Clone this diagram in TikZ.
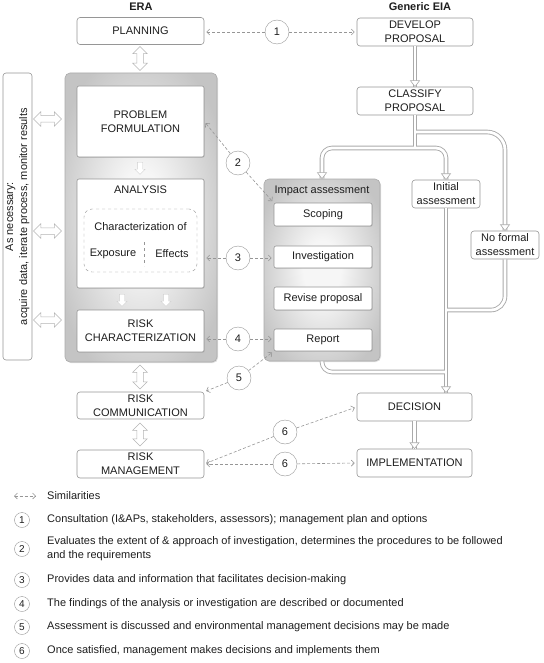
\documentclass[tikz,border=0pt]{standalone}
\usepackage{fontspec}
\setmainfont{Liberation Sans}
\usepackage{tikz}
\usetikzlibrary{positioning, calc, arrows.meta, shapes.arrows, shadows}
\definecolor{eraGray}{RGB}{150, 150, 150}
\definecolor{eraDark}{RGB}{30, 30, 30}
\definecolor{eraPipe}{RGB}{170, 170, 170}
\definecolor{eraShade}{RGB}{196, 196, 196}
\definecolor{eraLight}{RGB}{246, 246, 246}
\pgfdeclareradialshading{panelShade}{\pgfpoint{0bp}{0bp}}{color(0bp)=(eraLight); color(8bp)=(eraLight); color(30bp)=(eraShade); color(100bp)=(eraShade)}

\newcommand{\pipehead}[1]{\draw[pipe tip] (#1) -- ++(-4.5,-6) -- ++(9,0) -- cycle;}

\begin{document}
\begin{tikzpicture}[x=1pt, y=-1pt, font=\fontsize{11}{14}\selectfont, text=eraDark,
  box/.style={draw=eraGray, fill=white, rounded corners=3pt, line width=0.6pt, align=center, inner sep=1pt},
  inner box/.style={box, rounded corners=2pt, drop shadow={opacity=0.3, shadow xshift=0.7pt, shadow yshift=-0.7pt}},
  panel/.style={draw=eraGray!80, rounded corners=5pt, line width=0.6pt, shading=panelShade, drop shadow={opacity=0.25, shadow xshift=1pt, shadow yshift=-1pt}},
  num/.style={circle, draw=eraGray, fill=white, minimum size=24pt, inner sep=0pt},
  key num/.style={circle, draw=eraGray, fill=white, minimum size=15pt, inner sep=0pt, font=\fontsize{10}{12}\selectfont},
  sim/.style={draw=eraGray, dash pattern=on 3pt off 2pt, line width=0.6pt, -{Straight Barb[length=3pt, width=6pt]}, shorten >=2pt},
  fat arrow/.style={double arrow, draw=eraGray!70, fill=white, line width=0.5pt, inner sep=3pt, double arrow head extend=4pt, minimum height=#1},
  down arrow/.style={single arrow, fill=white, draw=eraGray!45, line width=0.3pt, inner sep=2.5pt, single arrow head extend=2.5pt, minimum height=12pt, rotate=-90},
  pipe tip/.style={draw=eraPipe, fill=white, line width=0.6pt},
]
  \useasboundingbox (0,0) rectangle (543,663);

  % Headings
  \node[font=\fontsize{11}{14}\selectfont\bfseries] (eraHead) at (141,7) {ERA};
  \node[font=\fontsize{11}{14}\selectfont\bfseries] (eiaHead) at (420,7) {Generic EIA};

  % ERA column
  \node[box, minimum width=127pt, minimum height=27pt] (plan) at (140.5,31) {PLANNING};
  \node[panel, minimum width=152pt, minimum height=289pt] (era) at (141,217.5) {};
  \node[inner box, minimum width=127pt, minimum height=71pt] (pf) at (140.5,121.5) {PROBLEM\\FORMULATION};
  \node[inner box, minimum width=127pt, minimum height=109pt] (ana) at (140.5,233.5) {};
  \node (anaLabel) at (140.5,190) {ANALYSIS};
  \node[draw=eraGray, dashed, rounded corners=8pt, minimum width=113pt, minimum height=63pt] (charBox) at (140.5,240.5) {};
  \node (charTxt) at (140.5,227) {Characterization of};
  \node (expo) at (113,254) {Exposure};
  \node (effe) at (172,254) {Effects};
  \draw[eraGray, dashed] (144,242) -- (144,266);
  \node[inner box, minimum width=127pt, minimum height=42pt] (rc) at (140.5,331) {RISK\\CHARACTERIZATION};
  \node[box, minimum width=127pt, minimum height=27pt] (rcom) at (140.5,405.5) {RISK\\COMMUNICATION};
  \node[box, minimum width=127pt, minimum height=28pt] (rmg) at (140.5,464) {RISK\\MANAGEMENT};

  % Hollow arrows
  \node[down arrow] (dA1) at (140,167) {};
  \node[down arrow] (dA2) at (122,299) {};
  \node[down arrow] (dA3) at (166,299) {};
  \node[fat arrow=24pt, rotate=90] (fa1) at (140,58.5) {};
  \node[fat arrow=24pt, rotate=90] (fa2) at (140,377) {};
  \node[fat arrow=23pt, rotate=90] (fa3) at (140,434.5) {};

  % Iteration side bar
  \node[box, minimum width=29pt, minimum height=287pt] (side) at (17.5,216.5) {};
  \node[rotate=90, align=center] (sideTxt) at (side) {As necessary:\\acquire data, iterate process, monitor results};
  \foreach \y in {119, 231, 320} {
      \node[fat arrow=28pt] (sa\y) at (47.5,\y) {};
  }

  % Generic EIA column
  \node[box, minimum width=116pt, minimum height=28pt] (dev) at (415,32) {DEVELOP\\PROPOSAL};
  \node[box, minimum width=116pt, minimum height=28pt] (cls) at (415,101) {CLASSIFY\\PROPOSAL};
  \node[panel, minimum width=116pt, minimum height=182pt] (ia) at (322,270) {};
  \node (iaLabel) at (322,191) {Impact assessment};
  \node[inner box, minimum width=98pt, minimum height=23pt] (scope) at (323,214.5) {Scoping};
  \node[inner box, minimum width=98pt, minimum height=22pt] (inv) at (323,257) {Investigation};
  \node[inner box, minimum width=98pt, minimum height=23pt] (rev) at (323,298.5) {Revise proposal};
  \node[inner box, minimum width=98pt, minimum height=22pt] (rep) at (323,340) {Report};
  \node[box, minimum width=68pt, minimum height=28pt] (ini) at (446,194) {Initial\\assessment};
  \node[box, minimum width=68pt, minimum height=28pt] (nf) at (505,245) {No formal\\assessment};
  \node[box, minimum width=115pt, minimum height=28pt] (dec) at (414.5,407) {DECISION};
  \node[box, minimum width=115pt, minimum height=28pt] (imp) at (414.5,463) {IMPLEMENTATION};

  % Pipes
  \coordinate (jA) at (415,148);
  \coordinate (jB) at (415,132);
  \coordinate (jC) at (446,310);
  \coordinate (jD) at (446,372);
  \foreach \pw/\pc in {4.6/eraPipe, 2.8/white} {
      \draw[line width=\pw pt, draw=\pc] (dev.south) -- (cls.north);
      \draw[line width=\pw pt, draw=\pc] (cls.south) -- (jA);
      \draw[line width=\pw pt, draw=\pc, rounded corners=10pt] (ia.north) -- (ia.north |- jA) -- (ini.north |- jA) -- (ini.north);
      \draw[line width=\pw pt, draw=\pc, rounded corners=18pt] (jB) -- (nf.north |- jB) -- (nf.north);
      \draw[line width=\pw pt, draw=\pc] (ini.south) -- (ini.south |- dec.north);
      \draw[line width=\pw pt, draw=\pc, rounded corners=14pt] (nf.south) -- (nf.south |- jC) -- (jC);
      \draw[line width=\pw pt, draw=\pc, rounded corners=10pt] (ia.south) -- (ia.south |- jD) -- (jD);
      \draw[line width=\pw pt, draw=\pc] (dec.south) -- (imp.north);
  }
  \pipehead{cls.north}
  \pipehead{ia.north}
  \pipehead{ini.north}
  \pipehead{nf.north}
  \pipehead{ini.south |- dec.north}
  \pipehead{imp.north}

  % Similarities
  \node[num] (n1) at (277,32) {1};
  \node[num] (n2) at (238,163) {2};
  \node[num] (n3) at (238,258) {3};
  \node[num] (n4) at (238,339) {4};
  \node[num] (n5) at (239,378) {5};
  \node[num] (n6a) at (285,432) {6};
  \node[num] (n6b) at (285,464) {6};
  \draw[sim] (n1) -- (plan.east |- n1);
  \draw[sim] (n1) -- (dev.west |- n1);
  \draw[sim] (n2) -- (pf.east);
  \draw[sim] (n2) -- (scope.north west);
  \draw[sim] (n3) -- (ana.east |- n3);
  \draw[sim] (n3) -- (inv.west |- n3);
  \draw[sim] (n4) -- (rc.east |- n4);
  \draw[sim] (n4) -- (rep.west |- n4);
  \draw[sim] (n5) -- (rcom.north east);
  \draw[sim] (n5) -- (rep.south west);
  \draw[sim] (n6a) -- (rmg.east);
  \draw[sim] (n6a) -- (dec.west);
  \draw[sim] (n6b) -- (rmg.east);
  \draw[sim] (n6b) -- (imp.west);

  % Key
  \coordinate (simA) at (14,496);
  \coordinate (simB) at (36,496);
  \draw[sim, shorten >=0pt, {Straight Barb[length=3pt, width=6pt]}-{Straight Barb[length=3pt, width=6pt]}] (simA) -- (simB);
  \node[anchor=west, inner sep=0pt] (simTxt) at (47,496) {Similarities};
  \foreach \n/\y/\t in {
      1/520/{Consultation (I\&APs, stakeholders, assessors); management plan and options},
      2/549/{Evaluates the extent of \& approach of investigation, determines the procedures to be followed\\and the requirements},
      3/580/{Provides data and information that facilitates decision-making},
      4/604/{The findings of the analysis or investigation are described or documented},
      5/627/{Assessment is discussed and environmental management decisions may be made},
      6/651/{Once satisfied, management makes decisions and implements them}} {
      \node[key num] (key\n) at (22,\y) {\n};
      \node[anchor=west, align=left, inner sep=0pt] (keyTxt\n) at (47,\y) {\t};
  }
\end{tikzpicture}
\end{document}
